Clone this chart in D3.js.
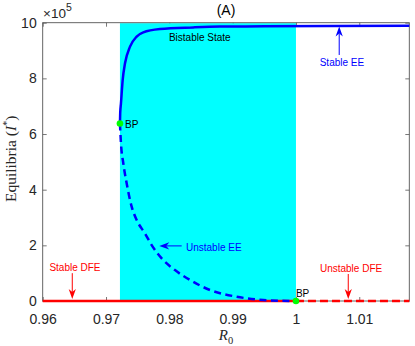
<!DOCTYPE html>
<html><head><meta charset="utf-8">
<script src="https://cdn.jsdelivr.net/npm/d3@7"></script>
<style>body{margin:0;background:#fff}svg{display:block}</style>
</head><body><svg id="c" width="415" height="346"></svg>
<script>
// ---- data ----
const xTicks = [0.96, 0.97, 0.98, 0.99, 1, 1.01];
const xTickLabels = ["0.96", "0.97", "0.98", "0.99", "1", "1.01"];
const yTicks = [0, 2, 4, 6, 8, 10];
const yTickLabels = ["0", "2", "4", "6", "8", "10"];
const xDomain = [0.96, 1.0179];
const yDomain = [0, 10];
const bistableRange = [0.9722, 1.0];

const stableEE_R0 = [0.9722, 0.97224, 0.97236, 0.97263, 0.973, 0.97379, 0.97484, 0.97589, 0.97852, 0.98378, 0.988, 0.995, 1.005, 1.0179];
const stableEE_I  = [6.38,   6.75,    7.10,    7.94,    8.54,  9.14,    9.50,    9.65,    9.77,    9.83,    9.86,  9.87,  9.88,  9.89];

const unstableEE_R0 = [0.9722, 0.97236, 0.97273, 0.97326, 0.97405, 0.97484, 0.97615, 0.97721, 0.97879, 0.98089, 0.98326, 0.98642, 0.99063, 0.99483, 1.0];
const unstableEE_I  = [6.38,   5.67,    4.95,    4.23,    3.39,    2.91,    2.43,    2.01,    1.53,    1.11,    0.755,   0.395,   0.155,   0.036,   0];

const stableDFE_R0 = [0.96, 1.0];
const stableDFE_I = [0, 0];
const unstableDFE_R0 = [1.0, 1.0179];
const unstableDFE_I = [0, 0];

const bp_R0 = [0.9722, 1.0];
const bp_I = [6.38, 0];

// ---- layout ----
const svg = d3.select("#c");
const L = 42.7, R = 409.3, T = 22.7, B = 301;
const x = d3.scaleLinear().domain(xDomain).range([L, R]);
const y = d3.scaleLinear().domain(yDomain).range([B, T]);
const axisColor = "#555";
const sans = "'Liberation Sans', Arial, Helvetica, sans-serif";

// axes ticks (inward) with labels
const gx = svg.append("g").attr("transform", `translate(0,${B})`)
  .call(d3.axisBottom(x).tickValues(xTicks).tickFormat((d, i) => xTickLabels[i]).tickSizeInner(-4).tickSizeOuter(0).tickPadding(13.5));
const gxT = svg.append("g").attr("transform", `translate(0,${T})`)
  .call(d3.axisTop(x).tickValues(xTicks).tickFormat("").tickSizeInner(-4).tickSizeOuter(0));
const gy = svg.append("g").attr("transform", `translate(${L},0)`)
  .call(d3.axisLeft(y).tickValues(yTicks).tickFormat((d, i) => yTickLabels[i]).tickSizeInner(-4).tickSizeOuter(0).tickPadding(6));
const gyR = svg.append("g").attr("transform", `translate(${R},0)`)
  .call(d3.axisRight(y).tickValues(yTicks).tickFormat("").tickSizeInner(-4).tickSizeOuter(0));
[gx, gxT, gy, gyR].forEach(g => {
  g.select(".domain").remove();
  g.selectAll(".tick line").attr("stroke", axisColor).attr("stroke-width", 0.8);
  g.selectAll("text").attr("fill", "#262626").style("font-family", sans).style("font-size", "14px");
});

// bistable region
svg.append("rect")
  .attr("x", x(bistableRange[0])).attr("y", y(10) + 0.5)
  .attr("width", x(bistableRange[1]) - x(bistableRange[0]))
  .attr("height", y(0) - y(10) - 0.5)
  .attr("fill", "#00ffff");

// box
svg.append("rect").attr("x", L).attr("y", T).attr("width", R - L).attr("height", B - T)
  .attr("fill", "none").attr("stroke", axisColor).attr("stroke-width", 0.9);

// lines
const line = d3.line().x(d => x(d[0])).y(d => y(d[1]));
const lineSmooth = d3.line().x(d => x(d[0])).y(d => y(d[1])).curve(d3.curveMonotoneX);
const zip = (a, b) => a.map((v, i) => [v, b[i]]);

svg.append("path").attr("d", line(zip(stableDFE_R0, stableDFE_I)))
  .attr("fill", "none").attr("stroke", "#ff0000").attr("stroke-width", 2.6);
svg.append("path").attr("d", line(zip(unstableDFE_R0, unstableDFE_I)))
  .attr("fill", "none").attr("stroke", "#ff0000").attr("stroke-width", 2.6).attr("stroke-dasharray", "8,4");
svg.append("path").attr("d", lineSmooth(zip(stableEE_R0, stableEE_I)))
  .attr("fill", "none").attr("stroke", "#0000ff").attr("stroke-width", 2.5);
svg.append("path").attr("d", lineSmooth(zip(unstableEE_R0, unstableEE_I)))
  .attr("fill", "none").attr("stroke", "#0000ff").attr("stroke-width", 2.5).attr("stroke-dasharray", "7,4.5");

// BP points
svg.selectAll("circle.bp").data(zip(bp_R0, bp_I)).join("circle")
  .attr("cx", d => x(d[0])).attr("cy", d => y(d[1])).attr("r", 3.3).attr("fill", "#00ff00");

// text helper
function txt(px, py, s, opt = {}) {
  return svg.append("text").attr("x", px).attr("y", py).text(s)
    .attr("fill", opt.fill || "#000").attr("text-anchor", opt.anchor || "start")
    .style("font-family", opt.font || sans).style("font-size", (opt.size || 10) + "px");
}
// arrow helper: from (x1,y1) to tip (x2,y2)
function arrow(x1, y1, x2, y2, color) {
  const dx = x2 - x1, dy = y2 - y1, len = Math.hypot(dx, dy);
  const ux = dx / len, uy = dy / len, nx = -uy, ny = ux;
  const hl = 10, hw = 3.6, notch = 3;
  const bx = x2 - ux * hl, by = y2 - uy * hl;
  svg.append("line").attr("x1", x1).attr("y1", y1).attr("x2", x2 - ux * (hl - notch)).attr("y2", y2 - uy * (hl - notch))
    .attr("stroke", color).attr("stroke-width", 1);
  svg.append("path").attr("d",
    `M${x2},${y2} L${bx + nx * hw},${by + ny * hw} L${x2 - ux * (hl - notch)},${y2 - uy * (hl - notch)} L${bx - nx * hw},${by - ny * hw} Z`)
    .attr("fill", color);
}

txt(x(0.973), y(6.2), "BP", { size: 10 });
txt(x(1.0), y(0.14), "BP", { size: 10 });
txt(x(0.97994), y(9.34), "Bistable State", { size: 10 });

txt(x(1.00726), y(8.44), "Stable EE", { fill: "#0000ff", anchor: "middle" });
arrow(x(1.00683), y(8.84), x(1.00683), y(9.86), "#0000ff");

txt(x(0.98263), y(1.80), "Unstable EE", { fill: "#0000ff" });
arrow(x(0.98195), y(1.98), x(0.97841), y(1.98), "#0000ff");

txt(x(0.9651), y(1.08), "Stable DFE", { fill: "#ff0000", anchor: "middle" });
arrow(x(0.96467), y(1.0), x(0.96467), y(0.07), "#ff0000");

txt(x(1.0087), y(1.04), "Unstable DFE", { fill: "#ff0000", anchor: "middle" });
arrow(x(1.00826), y(0.97), x(1.00826), y(0.07), "#ff0000");

// title
txt((L + R) / 2, 15, "(A)", { size: 14, anchor: "middle" });

// exponent
const ex = svg.append("text").attr("x", 43).attr("y", 18).attr("fill", "#262626")
  .style("font-family", sans).style("font-size", "13.5px");
ex.append("tspan").text("×10");
ex.append("tspan").attr("dy", -7).style("font-size", "10.5px").text("5");

// y label
const serif = "'Liberation Serif', 'Times New Roman', serif";
const yl = svg.append("text").attr("transform", `translate(16,${(T + B) / 2 - 3}) rotate(-90)`)
  .attr("text-anchor", "middle").attr("fill", "#262626")
  .style("font-family", serif).style("font-size", "15.5px");
yl.append("tspan").text("Equilibria (");
yl.append("tspan").style("font-style", "italic").text("I");
yl.append("tspan").attr("dy", -6).style("font-size", "10px").text("*");
yl.append("tspan").attr("dy", 6).text(")");

// x label
const xl = svg.append("text").attr("x", 226).attr("y", 340).attr("text-anchor", "middle").attr("fill", "#262626")
  .style("font-family", serif).style("font-size", "15px");
xl.append("tspan").style("font-style", "italic").text("R");
xl.append("tspan").attr("dy", 4).style("font-size", "10.5px").text("0");
</script></body></html>
